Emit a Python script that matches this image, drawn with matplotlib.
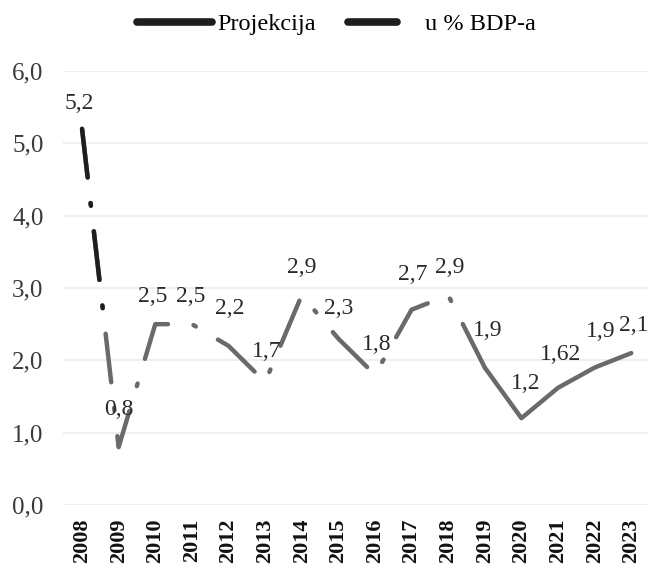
import numpy as np
import matplotlib
matplotlib.use("Agg")
import matplotlib.pyplot as plt
from matplotlib.ticker import FuncFormatter

plt.rcParams['font.family'] = ['Liberation Serif', 'DejaVu Serif']

years = ["2008", "2009", "2010", "2011", "2012", "2013", "2014", "2015",
         "2016", "2017", "2018", "2019", "2020", "2021", "2022", "2023"]
values = [5.2, 0.8, 2.5, 2.5, 2.2, 1.7, 2.9, 2.3, 1.8, 2.7, 2.9, 1.9, 1.2, 1.62, 1.9, 2.1]
labels = ["5,2", "0,8", "2,5", "2,5", "2,2", "1,7", "2,9", "2,3",
          "1,8", "2,7", "2,9", "1,9", "1,2", "1,62", "1,9", "2,1"]
hist_end = 11  # 2019, projection starts here

# label offsets in points (dx, dy)
offsets = [(-2, 18), (0, 27), (-2, 20), (-1, 20), (1, 27), (1, 22), (0, 20), (0, 22),
           (1, 22), (1, 25), (1, 20), (2, 27), (3, 25), (2, 24), (4, 26), (2, 20)]

dashdot = (0, (11, 5.8, 0.6, 5.8))
lw = 3.2

fig = plt.figure(figsize=(6.53, 5.69), dpi=100)
ax = fig.add_axes([0.0965, 0.1125, 0.896, 0.7627])

x = np.arange(len(years))
ax.plot(x[:hist_end + 1], values[:hist_end + 1], color="#6a6a6a", lw=lw,
        linestyle=dashdot, dash_capstyle="round")
ax.plot(x[hist_end:], values[hist_end:], color="#6a6a6a", lw=lw,
        solid_capstyle="round")
# start of the first segment is printed darker in the original
frac = 0.6
ax.plot([x[0], x[0] + frac * (x[1] - x[0])],
        [values[0], values[0] + frac * (values[1] - values[0])],
        color="#1e1e1e", lw=lw, linestyle=dashdot, dash_capstyle="round")

for i, (lab, off) in enumerate(zip(labels, offsets)):
    ax.annotate(lab, (x[i], values[i]), xytext=off, textcoords="offset points",
                ha="center", va="center", fontsize=17, color="#2a2a2a")

ax.set_ylim(0, 6.0)
ax.set_xlim(-0.52, 15.46)
ax.set_yticks(np.arange(0, 6.1, 1.0))
ax.yaxis.set_major_formatter(FuncFormatter(lambda v, p: f"{v:.1f}".replace(".", ",")))
ax.set_xticks(x)
ax.set_xticklabels(years, rotation=90, fontsize=16, fontweight="bold", color="#111111")
for t in ax.get_yticklabels():
    t.set_fontsize(18)
    t.set_color("#3a3a3a")
ax.tick_params(axis="y", length=0, pad=14)
ax.tick_params(axis="x", length=0, pad=10)
ax.grid(axis="y", color="#efefef", lw=1.5)
ax.set_axisbelow(True)
for s in ax.spines.values():
    s.set_visible(False)

# two legend entries, spaced as in the original
h_proj = plt.Line2D([], [], color="#1e1e1e", lw=5.5, solid_capstyle="round")
h_hist = plt.Line2D([], [], color="#1e1e1e", lw=5.5, solid_capstyle="round")
fig.legend([h_proj], ["Projekcija"], loc="center left",
           bbox_to_anchor=(137 / 653, 1 - 24 / 569), frameon=False,
           fontsize=17.5, handlelength=3.1, handletextpad=0.2,
           borderpad=0, borderaxespad=0)
fig.legend([h_hist], ["u % BDP-a"], loc="center left",
           bbox_to_anchor=(348 / 653, 1 - 24 / 569), frameon=False,
           fontsize=17.5, handlelength=2.0, handletextpad=1.15,
           borderpad=0, borderaxespad=0)

fig.savefig("out.png", dpi=100)
